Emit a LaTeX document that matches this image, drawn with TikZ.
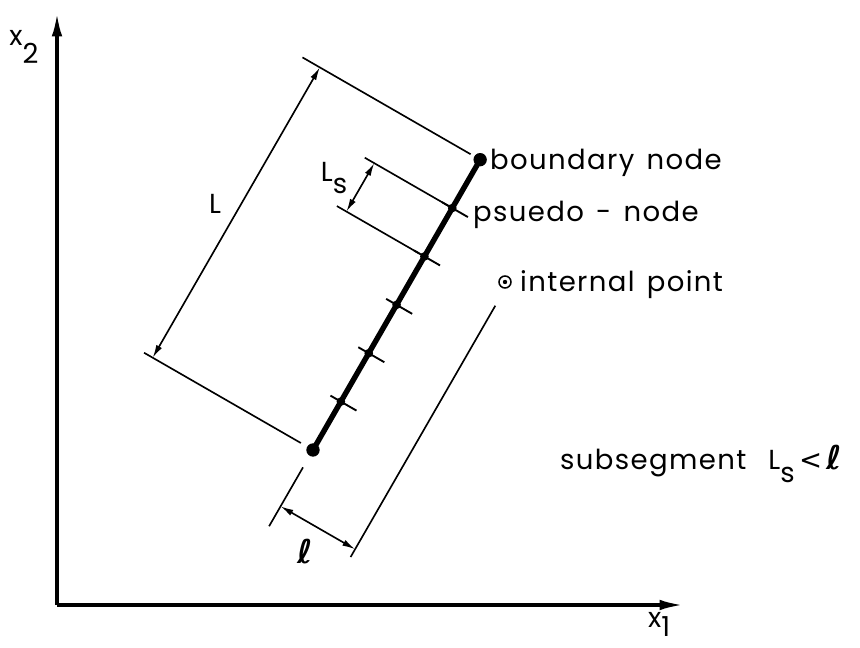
\documentclass[tikz,border=0pt]{standalone}
\usepackage{fontspec}
\setmainfont{Poppins}[LetterSpace=5, WordSpace=1.4]
\newfontfamily\ellfnt{DejaVu Sans}
\usepackage{tikz}
\usetikzlibrary{
  arrows.meta,
  calc
}
\definecolor{Ink}{RGB}{0,0,0}
\newcommand{\lsub}[2][0.8ex]{\raisebox{-#1}{#2}}
\newcommand{\ellsym}{{\ellfnt\bfseries\fontsize{28}{30}\selectfont ℓ}}
\tikzset{
  %%── axes and the boundary segment ─────────────────────────
  axis/.style = {
    line width = 2.8pt, draw = Ink,
    -{Latex[length=20pt, width=9pt]}
  },
  seg/.style = {line width = 4.6pt, draw = Ink},
  enddot/.style = {
    circle, fill = Ink, inner sep = 0pt, minimum size = 4.0mm
  },
  middot/.style = {
    circle, fill = Ink, inner sep = 0pt, minimum size = 2.6mm
  },
  tickmark/.style = {line width = 1.6pt, draw = Ink},
  %%── dimension lines ───────────────────────────────────────
  dimline/.style = {line width = 1.4pt, draw = Ink},
  dimarr/.style = {
    dimline,
    {Latex[length=11pt, width=5.5pt]}-{Latex[length=11pt, width=5.5pt]}
  },
  %%── labels ────────────────────────────────────────────────
  lbl/.style = {
    inner sep = 0pt, text = Ink,
    font = \fontsize{23.5}{28}\selectfont
  },
  ipoint/.style = {
    circle, draw = Ink, line width = 1.3pt,
    inner sep = 0pt, minimum size = 3.6mm
  },
}

\begin{document}
\begin{tikzpicture}[x = 0.3mm, y = 0.3mm]
  \useasboundingbox (0,0) rectangle (860,647);
  %%── axes ──
  \coordinate (O)     at (57,42);
  \coordinate (x2tip) at (57,634);
  \coordinate (x1tip) at (683,42);
  \draw[axis] (O) -- (x2tip);
  \draw[axis] (O) -- (x1tip);
  \node[lbl] (x2lab) at (24,600) {x\lsub[1.2ex]{2}};
  \node[lbl, anchor = base west] (x1lab) at (648,20) {x\lsub[0.6ex]{1}};

  %%── segment, in its own frame (s along, t to the left) ──
  \begin{scope}[shift = {(313,197)}, rotate = 60.07]
    \node[enddot] (n0) at (0,0) {};
    \node[enddot] (n6) at (335,0) {};
    \foreach \k in {1,...,5}
      \node[middot] (n\k) at ({\k*335/6},0) {};
    \draw[seg] (n0.center) -- (n6.center);
    \foreach \k in {1,...,5} {
      \coordinate (tkA\k) at ({\k*335/6},12);
      \coordinate (tkB\k) at ({\k*335/6},-18);
      \draw[tickmark] (tkA\k) -- (tkB\k);
    }

    % L
    \coordinate (Lx0a) at (0,14);   \coordinate (Lx0b) at (0,195);
    \coordinate (Lx6a) at (335,11); \coordinate (Lx6b) at (335,205);
    \coordinate (Ld0)  at (0,185);  \coordinate (Ld6)  at (335,185);
    \draw[dimline] (Lx0a) -- (Lx0b);
    \draw[dimline] (Lx6a) -- (Lx6b);
    \draw[dimarr] (Ld0) -- (Ld6);

    % Ls
    \coordinate (Sx5)  at ({5*335/6},101);
    \coordinate (Sx4a) at ({4*335/6},6);
    \coordinate (Sx4)  at ({4*335/6},101);
    \coordinate (Sd5)  at ({5*335/6},90);
    \coordinate (Sd4)  at ({4*335/6},90);
    \draw[dimline] (n5.center) -- (Sx5);
    \draw[dimline] (Sx4a) -- (Sx4);
    \draw[dimarr] (Sd4) -- (Sd5);

    % l
    \coordinate (lxA) at (-20,0);   \coordinate (lxB) at (-88,0);
    \coordinate (lxC) at (-74,-86); \coordinate (lxD) at (216,-86);
    \coordinate (ldA) at (-65,0);   \coordinate (ldB) at (-65,-86);
    \draw[dimline] (lxA) -- (lxB);
    \draw[dimline] (lxC) -- (lxD);
    \draw[dimarr] (ldA) -- (ldB);
  \end{scope}

  %%── labels ──
  \node[lbl] (Llab)  at (215,443) {L};
  \node[lbl] (Lslab) at (334,469) {L\lsub{s}};
  \node[lbl] (elllab) at (305,95) {\ellsym};
  \node[lbl, anchor = base west] (bndlab) at (490,477) {boundary node};
  \node[lbl, anchor = base west] (psnlab) at (473,425) {psuedo - node};
  \node[ipoint] (ip) at (505,365) {};
  \fill[Ink] (ip.center) circle (2.2);
  \node[lbl, anchor = base west] (iplab) at (520,355) {internal point};
  \node[lbl, anchor = base west] (sublab) at (560,177)
    {subsegment\hspace{0.8em}L\lsub{s}\,{\ellfnt<}\,\ellsym};
\end{tikzpicture}
\end{document}
